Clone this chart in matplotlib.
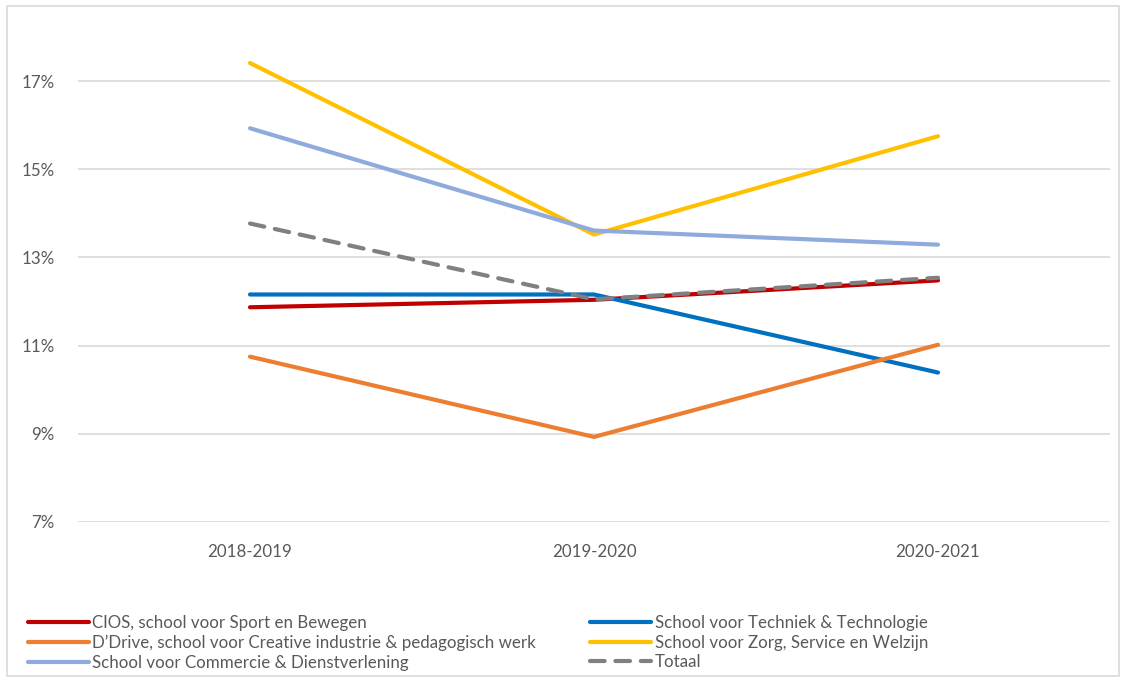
import matplotlib
matplotlib.use('Agg')
import matplotlib.pyplot as plt
from matplotlib.patches import Rectangle
from matplotlib.ticker import FuncFormatter

years = ['2018-2019', '2019-2020', '2020-2021']

cios = [11.87, 12.04, 12.48]
techniek = [12.16, 12.16, 10.39]
ddrive = [10.75, 8.93, 11.02]
zorg = [17.41, 13.52, 15.75]
commercie = [15.93, 13.61, 13.29]
totaal = [13.77, 12.05, 12.54]

names = ['CIOS, school voor Sport en Bewegen',
         'School voor Techniek & Technologie',
         'D\u2019Drive, school voor Creative industrie & pedagogisch werk',
         'School voor Zorg, Service en Welzijn',
         'School voor Commercie & Dienstverlening',
         'Totaal']
colours = ['#C00000', '#0070C0', '#ED7D31', '#FFC000', '#8FAADC', '#808080']

plt.rcParams['font.family'] = ['Lato', 'DejaVu Sans']
txt = '#595959'
fs = 12.2

fig = plt.figure(figsize=(11.27, 6.83), dpi=100)
fig.patches.append(Rectangle((7 / 1127, 7 / 683), 1112 / 1127, 670 / 683,
                             transform=fig.transFigure, fill=False,
                             edgecolor='#d9d9d9', lw=1.2))
ax = fig.add_axes([78 / 1127, 1 - 522 / 683, 1032 / 1127, 485 / 683])

lines = {}
series = [cios, techniek, ddrive, zorg, commercie, totaal]
x = range(len(years))
for name, vals, col in zip(names, series, colours):
    if name == 'Totaal':
        ln, = ax.plot(x, vals, color=col, lw=3.0, dashes=(3.5, 2.6),
                      dash_capstyle='round', solid_capstyle='round')
    else:
        ln, = ax.plot(x, vals, color=col, lw=3.0, solid_capstyle='round')
    lines[name] = ln

ax.set_xlim(-0.5, 2.5)
ax.set_ylim(7, 18)
ax.set_yticks([7, 9, 11, 13, 15, 17])
ax.yaxis.set_major_formatter(FuncFormatter(lambda v, p: f'{v:.0f}%'))
ax.set_xticks(list(x))
ax.set_xticklabels(years)
ax.grid(axis='y', color='#d9d9d9', lw=1.2)
ax.set_axisbelow(True)
for s in ax.spines.values():
    s.set_visible(False)
ax.tick_params(length=0, labelsize=fs, colors=txt)
ax.tick_params(axis='y', pad=17)
ax.tick_params(axis='x', pad=16)

order = [0, 2, 4, 1, 3, 5]
leg = fig.legend([lines[names[i]] for i in order], [names[i] for i in order],
                 ncol=2, loc='upper left', bbox_to_anchor=(21 / 1127, 1 - 608 / 683),
                 frameon=False, fontsize=fs, handlelength=3.6, handletextpad=0.2,
                 labelspacing=0.22, columnspacing=3.2, borderaxespad=0)
for t in leg.get_texts():
    t.set_color(txt)

fig.savefig('out.png', dpi=100)
